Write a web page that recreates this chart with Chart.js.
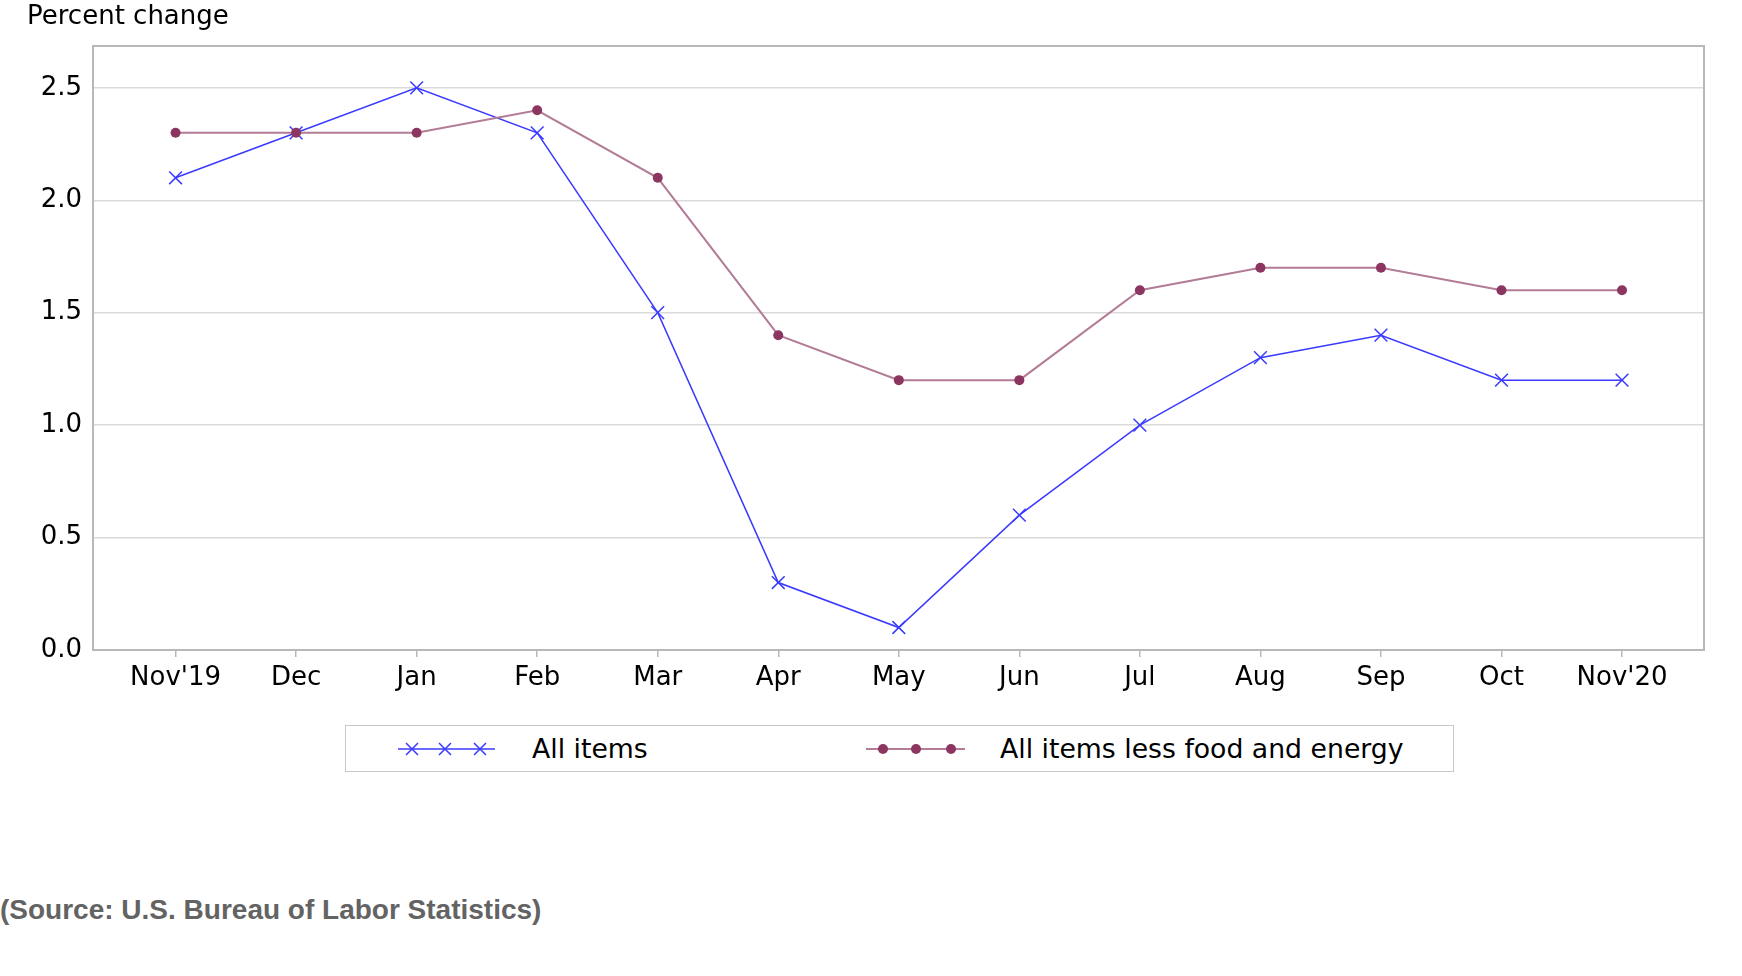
<!DOCTYPE html>
<html lang="en">
  <head>
    <meta charset="UTF-8" />
    <title>CPI percent change</title>
    <script src="https://cdn.jsdelivr.net/npm/chart.js"></script>
    <style>
      body { margin: 0; background: #fff; font-family: "DejaVu Sans", sans-serif; }
      .wrap { position: relative; width: 1742px; height: 976px; }
      #cpiChart { position: absolute; left: 0; top: 0; }
      .legend {
        position: absolute; left: 345px; top: 725px; width: 1109px; height: 47px;
        border: 1.5px solid #c8c8c8; box-sizing: border-box;
      }
      .legend svg { position: absolute; top: 9px; }
      .legend span { position: absolute; top: 7px; font-size: 26.7px; color: #000; }
      .source {
        position: absolute; left: 0; top: 894px;
        font-family: "Liberation Sans", Arial, sans-serif; font-weight: bold;
        font-size: 28px; color: #636363;
      }
    </style>
  </head>
  <body>
    <div class="wrap">
      <canvas id="cpiChart" width="1742" height="700"></canvas>
      <div class="legend">
        <svg style="left:52px" width="100" height="28">
          <line x1="0" y1="14" x2="97" y2="14" stroke="#3a3aff" stroke-width="1.5" />
          <g stroke="#3a3aff" stroke-width="1.5">
            <path d="M8 8 L20 20 M20 8 L8 20" />
            <path d="M41 8 L53 20 M53 8 L41 20" />
            <path d="M76 8 L88 20 M88 8 L76 20" />
          </g>
        </svg>
        <span style="left:186px">All items</span>
        <svg style="left:520px" width="100" height="28">
          <line x1="0" y1="14" x2="99" y2="14" stroke="#b27c97" stroke-width="2" />
          <g fill="#8c3560">
            <circle cx="17" cy="14" r="5" />
            <circle cx="50" cy="14" r="5" />
            <circle cx="85" cy="14" r="5" />
          </g>
        </svg>
        <span style="left:654px">All items less food and energy</span>
      </div>
      <div class="source">(Source: U.S. Bureau of Labor Statistics)</div>
    </div>

    <script>
      // months on the x axis
      const months = ["Nov'19", "Dec", "Jan", "Feb", "Mar", "Apr", "May", "Jun", "Jul", "Aug", "Sep", "Oct", "Nov'20"];
      // 12-month percent change
      const allItems = [2.1, 2.3, 2.5, 2.3, 1.5, 0.3, 0.1, 0.6, 1.0, 1.3, 1.4, 1.2, 1.2];
      const coreItems = [2.3, 2.3, 2.3, 2.4, 2.1, 1.4, 1.2, 1.2, 1.6, 1.7, 1.7, 1.6, 1.6];
      const yTicks = [0, 0.5, 1.0, 1.5, 2.0, 2.5];

      const toPoints = (arr) => arr.map((v, i) => ({ x: i, y: v }));

      // frame round the plot + the y axis caption
      const framePlugin = {
        id: "frame",
        afterDraw(chart) {
          const a = chart.chartArea;
          const ctx = chart.ctx;
          ctx.save();
          ctx.strokeStyle = "#b8b8b8";
          ctx.lineWidth = 2;
          ctx.strokeRect(a.left, a.top, a.right - a.left, a.bottom - a.top);
          ctx.fillStyle = "#000";
          ctx.font = '26px "DejaVu Sans"';
          ctx.textBaseline = "middle";
          ctx.fillText("Percent change", 27, 17);
          ctx.restore();
        },
      };

      const ctx = document.getElementById("cpiChart").getContext("2d");
      new Chart(ctx, {
        type: "line",
        data: {
          datasets: [
            {
              label: "All items less food and energy",
              data: toPoints(coreItems),
              borderColor: "#b27c97",
              borderWidth: 2,
              pointStyle: "circle",
              pointRadius: 5,
              pointBackgroundColor: "#8c3560",
              pointBorderColor: "#8c3560",
              pointBorderWidth: 0,
              tension: 0,
            },
            {
              label: "All items",
              data: toPoints(allItems),
              borderColor: "#3a3aff",
              borderWidth: 1.5,
              pointStyle: "crossRot",
              pointRadius: 9,
              pointBorderColor: "#3a3aff",
              pointBorderWidth: 1.5,
              tension: 0,
            },
          ],
        },
        options: {
          responsive: false,
          animation: false,
          layout: { padding: { left: 0, right: 38, top: 46, bottom: 0 } },
          plugins: { legend: { display: false }, tooltip: { enabled: false } },
          scales: {
            x: {
              type: "linear",
              min: -0.685,
              max: 12.68,
              afterFit: (s) => { s.height = 50; },
              afterBuildTicks: (s) => { s.ticks = months.map((m, i) => ({ value: i })); },
              ticks: {
                callback: (v) => months[v],
                font: { family: "DejaVu Sans", size: 26 },
                color: "#000",
                padding: 6,
                maxRotation: 0,
                autoSkip: false,
              },
              grid: { drawOnChartArea: false, drawTicks: true, tickLength: 7, color: "#b8b8b8", lineWidth: 1.5 },
              border: { display: false },
            },
            y: {
              min: 0,
              max: 2.686,
              afterFit: (s) => { s.width = 93; },
              afterBuildTicks: (s) => { s.ticks = yTicks.map((v) => ({ value: v })); },
              ticks: {
                callback: (v) => v.toFixed(1),
                font: { family: "DejaVu Sans", size: 26 },
                color: "#000",
                padding: 11,
              },
              grid: { drawTicks: false, color: "#dadada", lineWidth: 1.5 },
              border: { display: false },
            },
          },
        },
        plugins: [framePlugin],
      });
    </script>
  </body>
</html>
